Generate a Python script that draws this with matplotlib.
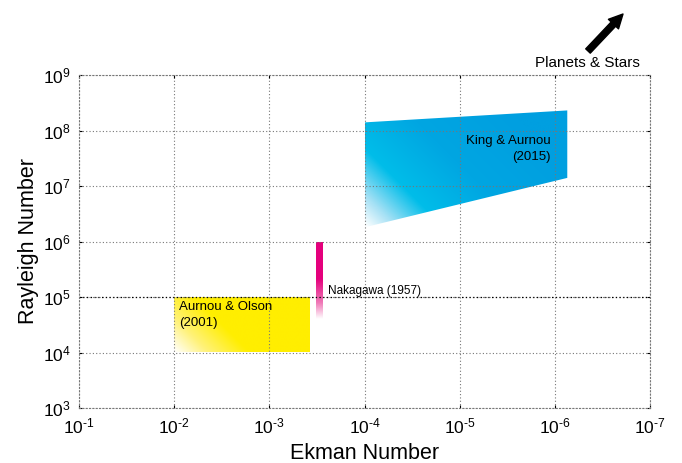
"""Ekman vs Rayleigh parameter space"""

import numpy as np
import matplotlib
matplotlib.use("Agg")
import matplotlib.pyplot as plt
from matplotlib.colors import LinearSegmentedColormap
from matplotlib.patches import Polygon
from matplotlib.ticker import FuncFormatter

plt.rcParams["font.family"] = ["Liberation Sans", "DejaVu Sans"]
plt.rcParams["mathtext.fontset"] = "custom"
plt.rcParams["mathtext.rm"] = "Liberation Sans"
plt.rcParams["mathtext.it"] = "Liberation Sans:italic"

# data
ekman_ticks = [1e-1, 1e-2, 1e-3, 1e-4, 1e-5, 1e-6, 1e-7]
rayleigh_ticks = [1e3, 1e4, 1e5, 1e6, 1e7, 1e8, 1e9]

aurnou_olson_ek = [1e-2, 1e-2, 3.7e-4, 3.7e-4]
aurnou_olson_ra = [1e4, 1e5, 1e5, 1e4]

nakagawa_ek = [3.2e-4, 3.2e-4, 2.7e-4, 2.7e-4]
nakagawa_ra = [4e4, 1e6, 1e6, 4e4]

king_aurnou_ek = [1e-4, 1e-4, 7.4e-7, 7.4e-7]
king_aurnou_ra = [1.8e6, 1.4e8, 2.3e8, 1.4e7]

W, H = 682, 463
fig = plt.figure(figsize=(W / 100, H / 100), dpi=100)
ax = fig.add_axes([79 / W, 1 - 408 / H, 571 / W, 333 / H])
ax.set_xscale("log")
ax.set_yscale("log")
ax.set_xlim(1e-1, 1e-7)
ax.set_ylim(1e3, 1e9)
ax_w, ax_h = 571, 333


def gradient_fill(ek, ra, cmap, tfunc):
    """image in axes coords, clipped to the data polygon"""
    verts = np.column_stack([ek, ra])
    to_axes = ax.transData + ax.transAxes.inverted()
    pts = to_axes.transform(verts)
    x0, y0 = pts.min(axis=0)
    x1, y1 = pts.max(axis=0)
    n = 300
    gx, gy = np.meshgrid(np.linspace(0, (x1 - x0) * ax_w, n),
                         np.linspace(0, (y1 - y0) * ax_h, n))
    t = np.clip(tfunc(gx, gy), 0, 1)
    im = ax.imshow(t, cmap=cmap, vmin=0, vmax=1, origin="lower",
                   extent=[x0, x1, y0, y1], transform=ax.transAxes,
                   aspect="auto", interpolation="bilinear", zorder=0)
    patch = Polygon(verts, closed=True, transform=ax.transData,
                    fc="none", ec="none")
    ax.add_patch(patch)
    im.set_clip_path(patch)


yellow = LinearSegmentedColormap.from_list(
    "yel", [(0, "#ffffff"), (0.45, "#fff27a"), (1, "#ffee00")])
gradient_fill(aurnou_olson_ek, aurnou_olson_ra, yellow,
              lambda dx, dy: (dx + dy) / 75)

magenta = LinearSegmentedColormap.from_list(
    "mag", [(0, "#ffffff"), (0.4, "#f07ab8"), (1, "#e5007d")])
gradient_fill(nakagawa_ek, nakagawa_ra, magenta,
              lambda dx, dy: dy / 40)

blue = LinearSegmentedColormap.from_list(
    "blu", [(0, "#ffffff"), (0.12, "#a6e1f5"), (0.3, "#00bde9"),
            (0.6, "#00a6e2"), (1, "#009fe0")])
gradient_fill(king_aurnou_ek, king_aurnou_ra, blue,
              lambda dx, dy: (dx + dy) / 260)


def pow10(v, pos):
    e = int(round(np.log10(v)))
    return r"$10^{\text{%d}}$" % e


ax.set_xticks(ekman_ticks)
ax.set_yticks(rayleigh_ticks)
ax.minorticks_off()
ax.xaxis.set_major_formatter(FuncFormatter(pow10))
ax.yaxis.set_major_formatter(FuncFormatter(pow10))
ax.tick_params(direction="in", length=2.5, width=0.8, top=True, right=True,
               labelsize=12.5, pad=6)
ax.grid(True, linestyle=(0, (1, 2)), color="#777777", linewidth=0.8)
ax.axhline(1e5, linestyle=(0, (1, 2)), color="black", linewidth=0.9,
           zorder=1.6)
for s in ax.spines.values():
    s.set_linestyle((0, (1, 2)))
    s.set_color("#777777")
    s.set_linewidth(0.8)

ax.set_xlabel("Ekman Number", fontsize=15.5, labelpad=5)
ax.set_ylabel("Rayleigh Number", fontsize=15.5, labelpad=3)

ax.text(8.9e-3, 4.8e4, "Aurnou & Olson\n(2001)", fontsize=9.5,
        va="center", ha="left", linespacing=1.45)
ax.text(2.4e-4, 1.3e5, "Nakagawa (1957)", fontsize=8.5,
        va="center", ha="left")
ax.text(1.1e-6, 4.6e7, "King & Aurnou\n(2015)", fontsize=9.5,
        va="center", ha="right", multialignment="right", linespacing=1.45)

fig.text(587 / W, 1 - 63 / H, "Planets & Stars", fontsize=11,
         ha="center", va="center")
ax.annotate("", xy=(623 / W, 1 - 14 / H), xytext=(588 / W, 1 - 51 / H),
            xycoords="figure fraction", textcoords="figure fraction",
            arrowprops=dict(arrowstyle="simple,head_length=1.0,head_width=1.0,tail_width=0.45",
                            color="black", shrinkA=0, shrinkB=0))

fig.savefig("out.png", dpi=100)
